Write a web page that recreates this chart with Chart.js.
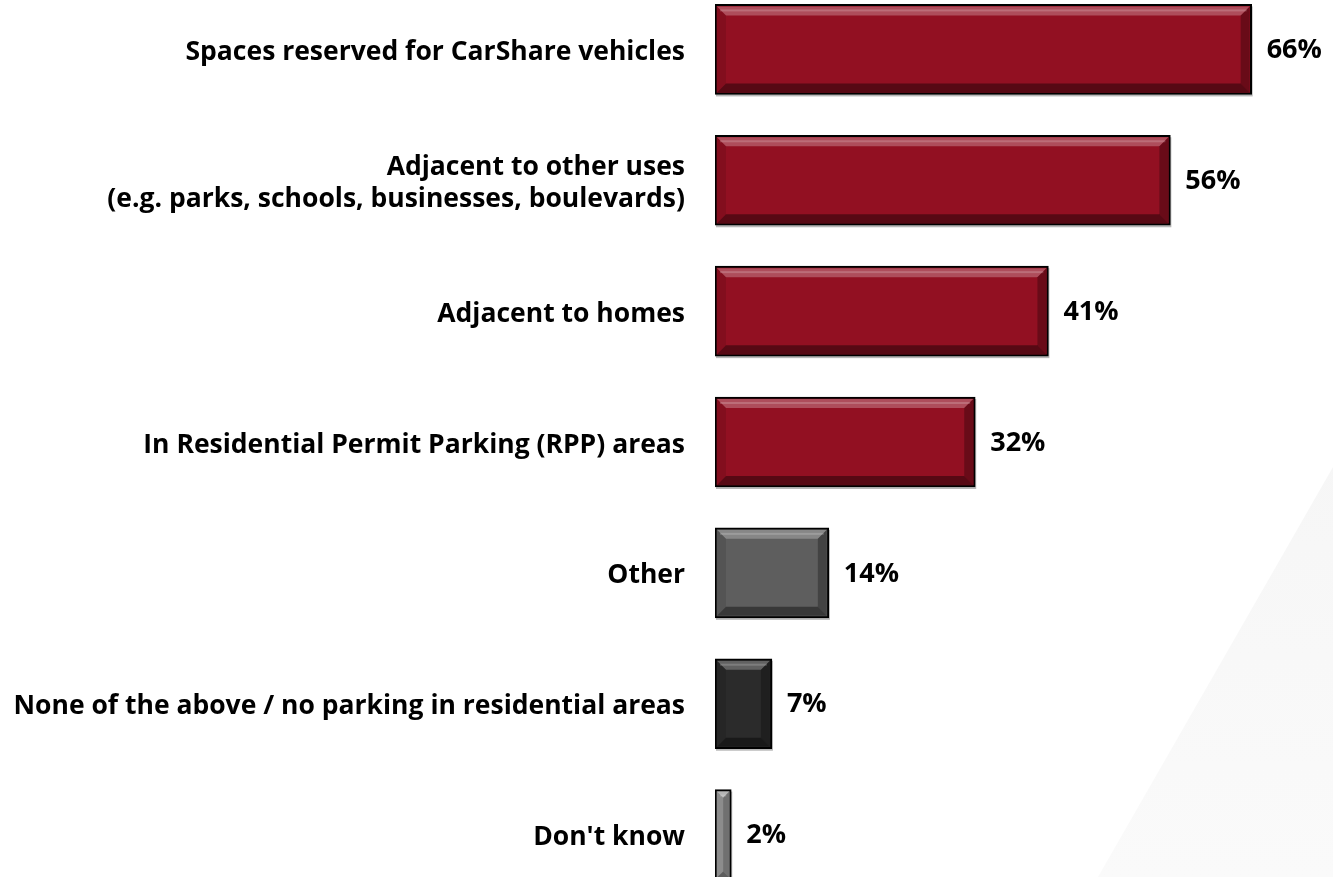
<!DOCTYPE html>
<html>
<head>
<meta charset="utf-8">
<script src="https://cdn.jsdelivr.net/npm/chart.js@4"></script>
<style>
    html, body { margin: 0; padding: 0; background: #fff; overflow: hidden; }
    body { width: 1333px; height: 877px; position: relative; }
    .backdrop {
        position: absolute; left: 0; top: 0; width: 1333px; height: 877px;
        background: linear-gradient(180deg, #f2f2f2 0%, #fafafa 100%);
        clip-path: polygon(1333px 467px, 1333px 877px, 1098px 877px);
    }
    .chart-box { position: absolute; left: 0; top: -16px; width: 1333px; height: 916px; }
</style>
</head>
<body>
<div class="backdrop"></div>
<div class="chart-box"><canvas id="myChart"></canvas></div>
<script>
// Survey answers and their shares
const categories = [
    'Spaces reserved for CarShare vehicles',
    ['Adjacent to other uses', '(e.g. parks, schools, businesses, boulevards)'],
    'Adjacent to homes',
    'In Residential Permit Parking (RPP) areas',
    'Other',
    'None of the above / no parking in residential areas',
    "Don't know"
];
const percentages = [66, 56, 41, 32, 14, 7, 2];
const barColors = ['#921022', '#921022', '#921022', '#921022', '#5e5e5e', '#2b2b2b', '#9c9c9c'];

const FONT = "'Open Sans', 'DejaVu Sans', sans-serif";

document.addEventListener('DOMContentLoaded', function() {
    const ctx = document.getElementById('myChart').getContext('2d');

    // Soft drop shadow under each bar
    const shadowPlugin = {
        id: 'barShadow',
        beforeDatasetsDraw(chart) {
            const c = chart.ctx;
            chart.getDatasetMeta(0).data.forEach(bar => {
                const t = bar.y - bar.height / 2;
                c.save();
                c.fillStyle = 'rgba(0,0,0,0.28)';
                c.fillRect(bar.base + 1, t + 2, bar.x - bar.base, bar.height);
                c.restore();
            });
        }
    };

    // Bevelled edges and the value text next to each bar
    const bevelPlugin = {
        id: 'bevel',
        afterDatasetsDraw(chart) {
            const c = chart.ctx;
            chart.getDatasetMeta(0).data.forEach((bar, i) => {
                const l = bar.base + 2, r = bar.x - 2;
                const t = bar.y - bar.height / 2 + 2, b = bar.y + bar.height / 2 - 2;
                const s = Math.min(9, (r - l) / 2);
                c.save();
                const side = (pts, fill) => {
                    c.beginPath();
                    c.moveTo(pts[0][0], pts[0][1]);
                    pts.slice(1).forEach(p => c.lineTo(p[0], p[1]));
                    c.closePath();
                    c.fillStyle = fill;
                    c.fill();
                };
                side([[l, t], [r, t], [r - s, t + s], [l + s, t + s]], 'rgba(255,255,255,0.26)');
                side([[l, t], [l + s, t + s], [l + s, b - s], [l, b]], 'rgba(0,0,0,0.10)');
                side([[r, t], [r, b], [r - s, b - s], [r - s, t + s]], 'rgba(0,0,0,0.28)');
                side([[l, b], [l + s, b - s], [r - s, b - s], [r, b]], 'rgba(0,0,0,0.40)');
                // thin highlight along the top bevel
                c.fillStyle = 'rgba(255,255,255,0.18)';
                c.fillRect(l + 3, t + 3, Math.max(0, r - l - 6), 2);

                c.fillStyle = '#000';
                c.font = 'bold 27px ' + FONT;
                c.textAlign = 'left';
                c.textBaseline = 'middle';
                c.fillText(percentages[i] + '%', bar.x + 15, bar.y + 1);
                c.restore();
            });
        }
    };

    new Chart(ctx, {
        type: 'bar',
        data: {
            labels: categories,
            datasets: [{
                data: percentages,
                backgroundColor: barColors,
                borderColor: '#000',
                borderWidth: 2,
                borderSkipped: false,
                barThickness: 90
            }]
        },
        options: {
            indexAxis: 'y',
            responsive: true,
            maintainAspectRatio: false,
            animation: false,
            layout: { padding: 0 },
            plugins: {
                legend: { display: false },
                tooltip: { enabled: false }
            },
            scales: {
                x: {
                    display: false,
                    min: 0,
                    max: 76
                },
                y: {
                    grid: { display: false },
                    border: { display: false },
                    afterFit: function(scale) {
                        // fixed label column; no extra room above/below the bars
                        scale.width = 715;
                        scale.paddingTop = 0;
                        scale.paddingBottom = 0;
                    },
                    ticks: {
                        padding: 22,
                        labelOffset: 3,
                        color: '#000',
                        font: { family: FONT, size: 26.5, weight: 'bold', lineHeight: 1.2 }
                    }
                }
            }
        },
        plugins: [shadowPlugin, bevelPlugin]
    });
});
</script>
</body>
</html>
